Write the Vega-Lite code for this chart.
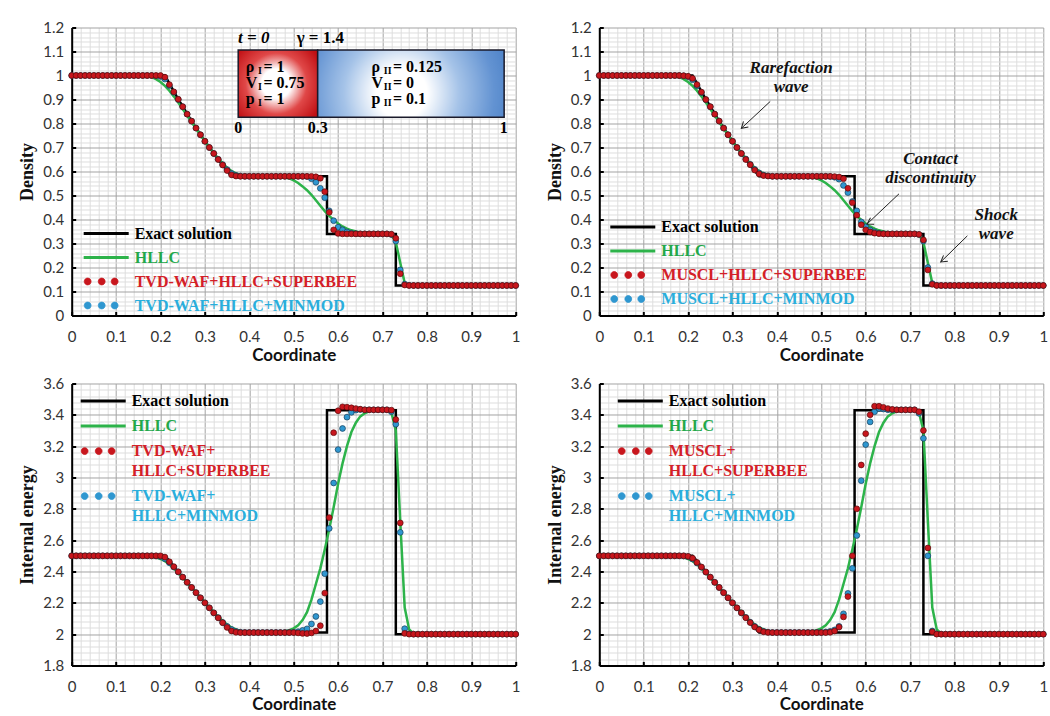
{
"$schema": "https://vega.github.io/schema/vega-lite/v6.json",
"background": "white",
"padding": {"left": 18.7, "top": 20.5, "right": 4, "bottom": 0},
"columns": 2,
"spacing": {"row": 13, "column": 25.6},
"resolve": {"scale": {"color": "independent"}, "legend": {"color": "independent"}},
"config": {
  "view": {"stroke": null},
  "font": "Lato",
  "axis": {"grid": true, "ticks": true, "tickSize": -4, "tickWidth": 2, "tickColor": "#000000", "tickCount": 200, "gridWidth": 1, "labelFont": "Lato", "labelFontSize": 15, "labelColor": "#333333", "labelFlush": false, "labelOverlap": false, "domainColor": "#000000", "domainWidth": 2},
  "axisX": {"labelPadding": 18, "titlePadding": 3, "titleFont": "Lato", "titleFontSize": 17, "titleFontWeight": "bold", "titleColor": "#111111"},
  "axisY": {"labelPadding": 12, "titlePadding": 6, "titleFont": "Liberation Serif", "titleFontSize": 18, "titleFontWeight": "bold", "titleColor": "#111111"}
},
"datasets": {
"ex": [
{"k":0,"x":0,"rho":1,"e":2.5},{"k":1,"x":0.21,"rho":1,"e":2.5},{"k":2,"x":0.24,"rho":0.901,"e":2.398},{"k":3,"x":0.27,"rho":0.81,"e":2.298},{"k":4,"x":0.3,"rho":0.7265,"e":2.2},{"k":5,"x":0.33,"rho":0.65,"e":2.104},{"k":6,"x":0.36,"rho":0.58,"e":2.01},{"k":7,"x":0.575,"rho":0.58,"e":2.01},{"k":8,"x":0.575,"rho":0.34,"e":3.43},{"k":9,"x":0.73,"rho":0.34,"e":3.43},{"k":10,"x":0.73,"rho":0.125,"e":2.0},{"k":11,"x":1,"rho":0.125,"e":2.0}
],
"n": [
{"x":0,"g":1,"tr":1,"tb":1,"mr":1,"mb":1,"G":2.5,"TR":2.5,"TB":2.5,"MR":2.5,"MB":2.5},
{"x":0.01,"g":1,"tr":1,"tb":1,"mr":1,"mb":1,"G":2.5,"TR":2.5,"TB":2.5,"MR":2.5,"MB":2.5},
{"x":0.02,"g":1,"tr":1,"tb":1,"mr":1,"mb":1,"G":2.5,"TR":2.5,"TB":2.5,"MR":2.5,"MB":2.5},
{"x":0.03,"g":1,"tr":1,"tb":1,"mr":1,"mb":1,"G":2.5,"TR":2.5,"TB":2.5,"MR":2.5,"MB":2.5},
{"x":0.04,"g":1,"tr":1,"tb":1,"mr":1,"mb":1,"G":2.5,"TR":2.5,"TB":2.5,"MR":2.5,"MB":2.5},
{"x":0.05,"g":1,"tr":1,"tb":1,"mr":1,"mb":1,"G":2.5,"TR":2.5,"TB":2.5,"MR":2.5,"MB":2.5},
{"x":0.06,"g":1,"tr":1,"tb":1,"mr":1,"mb":1,"G":2.5,"TR":2.5,"TB":2.5,"MR":2.5,"MB":2.5},
{"x":0.07,"g":1,"tr":1,"tb":1,"mr":1,"mb":1,"G":2.5,"TR":2.5,"TB":2.5,"MR":2.5,"MB":2.5},
{"x":0.08,"g":1,"tr":1,"tb":1,"mr":1,"mb":1,"G":2.5,"TR":2.5,"TB":2.5,"MR":2.5,"MB":2.5},
{"x":0.09,"g":1,"tr":1,"tb":1,"mr":1,"mb":1,"G":2.5,"TR":2.5,"TB":2.5,"MR":2.5,"MB":2.5},
{"x":0.1,"g":1,"tr":1,"tb":1,"mr":1,"mb":1,"G":2.5,"TR":2.5,"TB":2.5,"MR":2.5,"MB":2.5},
{"x":0.11,"g":1,"tr":1,"tb":1,"mr":1,"mb":1,"G":2.5,"TR":2.5,"TB":2.5,"MR":2.5,"MB":2.5},
{"x":0.12,"g":1,"tr":1,"tb":1,"mr":1,"mb":1,"G":2.5,"TR":2.5,"TB":2.5,"MR":2.5,"MB":2.5},
{"x":0.13,"g":1,"tr":1,"tb":1,"mr":1,"mb":1,"G":2.5,"TR":2.5,"TB":2.5,"MR":2.5,"MB":2.5},
{"x":0.14,"g":1,"tr":1,"tb":1,"mr":1,"mb":1,"G":2.5,"TR":2.5,"TB":2.5,"MR":2.5,"MB":2.5},
{"x":0.15,"g":1,"tr":1,"tb":1,"mr":1,"mb":1,"G":2.5,"TR":2.5,"TB":2.5,"MR":2.5,"MB":2.5},
{"x":0.16,"g":0.999,"tr":1,"tb":1,"mr":1,"mb":1,"G":2.5,"TR":2.5,"TB":2.5,"MR":2.5,"MB":2.5},
{"x":0.17,"g":0.997,"tr":1,"tb":1,"mr":1,"mb":1,"G":2.499,"TR":2.5,"TB":2.5,"MR":2.5,"MB":2.5},
{"x":0.18,"g":0.993,"tr":1,"tb":1,"mr":1,"mb":1,"G":2.496,"TR":2.5,"TB":2.5,"MR":2.5,"MB":2.5},
{"x":0.19,"g":0.985,"tr":1,"tb":0.999,"mr":0.999,"mb":0.999,"G":2.49,"TR":2.5,"TB":2.499,"MR":2.5,"MB":2.499},
{"x":0.2,"g":0.973,"tr":1,"tb":0.996,"mr":0.997,"mb":0.995,"G":2.48,"TR":2.5,"TB":2.496,"MR":2.497,"MB":2.495},
{"x":0.21,"g":0.957,"tr":0.993,"tb":0.985,"mr":0.988,"mb":0.982,"G":2.466,"TR":2.492,"TB":2.482,"MR":2.485,"MB":2.48},
{"x":0.22,"g":0.937,"tr":0.962,"tb":0.958,"mr":0.962,"mb":0.957,"G":2.446,"TR":2.462,"TB":2.456,"MR":2.458,"MB":2.454},
{"x":0.23,"g":0.913,"tr":0.932,"tb":0.93,"mr":0.931,"mb":0.929,"G":2.42,"TR":2.431,"TB":2.428,"MR":2.429,"MB":2.427},
{"x":0.24,"g":0.887,"tr":0.901,"tb":0.9,"mr":0.9,"mb":0.899,"G":2.391,"TR":2.398,"TB":2.397,"MR":2.397,"MB":2.396},
{"x":0.25,"g":0.86,"tr":0.87,"tb":0.87,"mr":0.87,"mb":0.87,"G":2.36,"TR":2.364,"TB":2.364,"MR":2.364,"MB":2.364},
{"x":0.26,"g":0.833,"tr":0.839,"tb":0.839,"mr":0.839,"mb":0.839,"G":2.329,"TR":2.331,"TB":2.331,"MR":2.331,"MB":2.331},
{"x":0.27,"g":0.806,"tr":0.81,"tb":0.81,"mr":0.81,"mb":0.81,"G":2.297,"TR":2.298,"TB":2.298,"MR":2.298,"MB":2.298},
{"x":0.28,"g":0.779,"tr":0.781,"tb":0.781,"mr":0.781,"mb":0.781,"G":2.265,"TR":2.265,"TB":2.265,"MR":2.265,"MB":2.265},
{"x":0.29,"g":0.752,"tr":0.753,"tb":0.753,"mr":0.753,"mb":0.753,"G":2.233,"TR":2.232,"TB":2.232,"MR":2.232,"MB":2.232},
{"x":0.3,"g":0.726,"tr":0.726,"tb":0.726,"mr":0.726,"mb":0.726,"G":2.201,"TR":2.2,"TB":2.2,"MR":2.2,"MB":2.2},
{"x":0.31,"g":0.701,"tr":0.7,"tb":0.7,"mr":0.7,"mb":0.7,"G":2.17,"TR":2.168,"TB":2.168,"MR":2.168,"MB":2.168},
{"x":0.32,"g":0.677,"tr":0.675,"tb":0.675,"mr":0.675,"mb":0.675,"G":2.14,"TR":2.136,"TB":2.136,"MR":2.136,"MB":2.136},
{"x":0.33,"g":0.655,"tr":0.65,"tb":0.651,"mr":0.65,"mb":0.652,"G":2.111,"TR":2.104,"TB":2.106,"MR":2.105,"MB":2.107},
{"x":0.34,"g":0.634,"tr":0.627,"tb":0.629,"mr":0.628,"mb":0.63,"G":2.085,"TR":2.073,"TB":2.075,"MR":2.074,"MB":2.076},
{"x":0.35,"g":0.616,"tr":0.604,"tb":0.608,"mr":0.606,"mb":0.609,"G":2.062,"TR":2.043,"TB":2.05,"MR":2.046,"MB":2.05},
{"x":0.36,"g":0.602,"tr":0.586,"tb":0.592,"mr":0.59,"mb":0.594,"G":2.043,"TR":2.02,"TB":2.03,"MR":2.028,"MB":2.031},
{"x":0.37,"g":0.592,"tr":0.581,"tb":0.584,"mr":0.583,"mb":0.585,"G":2.03,"TR":2.012,"TB":2.018,"MR":2.015,"MB":2.018},
{"x":0.38,"g":0.586,"tr":0.58,"tb":0.581,"mr":0.581,"mb":0.582,"G":2.021,"TR":2.01,"TB":2.013,"MR":2.011,"MB":2.013},
{"x":0.39,"g":0.583,"tr":0.58,"tb":0.58,"mr":0.58,"mb":0.58,"G":2.016,"TR":2.01,"TB":2.011,"MR":2.01,"MB":2.011},
{"x":0.4,"g":0.581,"tr":0.58,"tb":0.58,"mr":0.58,"mb":0.58,"G":2.013,"TR":2.01,"TB":2.011,"MR":2.01,"MB":2.011},
{"x":0.41,"g":0.58,"tr":0.58,"tb":0.58,"mr":0.58,"mb":0.58,"G":2.011,"TR":2.01,"TB":2.011,"MR":2.01,"MB":2.011},
{"x":0.42,"g":0.58,"tr":0.58,"tb":0.58,"mr":0.58,"mb":0.58,"G":2.011,"TR":2.01,"TB":2.011,"MR":2.01,"MB":2.011},
{"x":0.43,"g":0.58,"tr":0.58,"tb":0.58,"mr":0.58,"mb":0.58,"G":2.011,"TR":2.01,"TB":2.011,"MR":2.01,"MB":2.011},
{"x":0.44,"g":0.58,"tr":0.58,"tb":0.58,"mr":0.58,"mb":0.58,"G":2.011,"TR":2.01,"TB":2.011,"MR":2.01,"MB":2.011},
{"x":0.45,"g":0.58,"tr":0.58,"tb":0.58,"mr":0.58,"mb":0.58,"G":2.011,"TR":2.01,"TB":2.011,"MR":2.01,"MB":2.011},
{"x":0.46,"g":0.58,"tr":0.58,"tb":0.58,"mr":0.58,"mb":0.58,"G":2.011,"TR":2.01,"TB":2.011,"MR":2.01,"MB":2.011},
{"x":0.47,"g":0.579,"tr":0.58,"tb":0.58,"mr":0.58,"mb":0.58,"G":2.013,"TR":2.01,"TB":2.011,"MR":2.01,"MB":2.011},
{"x":0.48,"g":0.576,"tr":0.58,"tb":0.58,"mr":0.58,"mb":0.58,"G":2.017,"TR":2.01,"TB":2.011,"MR":2.01,"MB":2.011},
{"x":0.49,"g":0.571,"tr":0.58,"tb":0.58,"mr":0.58,"mb":0.58,"G":2.025,"TR":2.01,"TB":2.011,"MR":2.01,"MB":2.011},
{"x":0.5,"g":0.563,"tr":0.58,"tb":0.58,"mr":0.58,"mb":0.58,"G":2.037,"TR":2.01,"TB":2.012,"MR":2.01,"MB":2.011},
{"x":0.51,"g":0.552,"tr":0.58,"tb":0.58,"mr":0.58,"mb":0.58,"G":2.056,"TR":2.008,"TB":2.016,"MR":2.01,"MB":2.014},
{"x":0.52,"g":0.538,"tr":0.58,"tb":0.58,"mr":0.58,"mb":0.579,"G":2.09,"TR":2.005,"TB":2.024,"MR":2.012,"MB":2.018},
{"x":0.53,"g":0.522,"tr":0.58,"tb":0.579,"mr":0.579,"mb":0.576,"G":2.14,"TR":2.004,"TB":2.034,"MR":2.02,"MB":2.027},
{"x":0.54,"g":0.503,"tr":0.58,"tb":0.57,"mr":0.577,"mb":0.568,"G":2.22,"TR":2.008,"TB":2.065,"MR":2.045,"MB":2.05},
{"x":0.55,"g":0.48,"tr":0.578,"tb":0.555,"mr":0.57,"mb":0.542,"G":2.32,"TR":2.02,"TB":2.113,"MR":2.11,"MB":2.13},
{"x":0.56,"g":0.457,"tr":0.572,"tb":0.53,"mr":0.53,"mb":0.512,"G":2.42,"TR":2.054,"TB":2.208,"MR":2.24,"MB":2.26},
{"x":0.57,"g":0.435,"tr":0.516,"tb":0.491,"mr":0.47,"mb":0.475,"G":2.54,"TR":2.262,"TB":2.386,"MR":2.5,"MB":2.42},
{"x":0.58,"g":0.415,"tr":0.43,"tb":0.436,"mr":0.418,"mb":0.436,"G":2.67,"TR":2.744,"TB":2.675,"MR":2.8,"MB":2.63},
{"x":0.59,"g":0.398,"tr":0.357,"tb":0.395,"mr":0.378,"mb":0.39,"G":2.81,"TR":3.286,"TB":2.965,"MR":3.08,"MB":2.98},
{"x":0.6,"g":0.383,"tr":0.342,"tb":0.368,"mr":0.357,"mb":0.37,"G":2.96,"TR":3.426,"TB":3.178,"MR":3.28,"MB":3.21},
{"x":0.61,"g":0.371,"tr":0.34,"tb":0.357,"mr":0.348,"mb":0.356,"G":3.09,"TR":3.451,"TB":3.313,"MR":3.4,"MB":3.355},
{"x":0.62,"g":0.362,"tr":0.34,"tb":0.348,"mr":0.343,"mb":0.348,"G":3.2,"TR":3.449,"TB":3.385,"MR":3.455,"MB":3.42},
{"x":0.63,"g":0.355,"tr":0.34,"tb":0.343,"mr":0.341,"mb":0.343,"G":3.29,"TR":3.445,"TB":3.416,"MR":3.455,"MB":3.44},
{"x":0.64,"g":0.35,"tr":0.34,"tb":0.341,"mr":0.34,"mb":0.341,"G":3.35,"TR":3.44,"TB":3.43,"MR":3.448,"MB":3.437},
{"x":0.65,"g":0.346,"tr":0.34,"tb":0.34,"mr":0.34,"mb":0.34,"G":3.39,"TR":3.436,"TB":3.434,"MR":3.44,"MB":3.432},
{"x":0.66,"g":0.343,"tr":0.34,"tb":0.34,"mr":0.34,"mb":0.34,"G":3.41,"TR":3.432,"TB":3.432,"MR":3.435,"MB":3.432},
{"x":0.67,"g":0.341,"tr":0.34,"tb":0.34,"mr":0.34,"mb":0.34,"G":3.422,"TR":3.432,"TB":3.432,"MR":3.432,"MB":3.432},
{"x":0.68,"g":0.34,"tr":0.34,"tb":0.34,"mr":0.34,"mb":0.34,"G":3.43,"TR":3.432,"TB":3.432,"MR":3.432,"MB":3.432},
{"x":0.69,"g":0.34,"tr":0.34,"tb":0.34,"mr":0.34,"mb":0.34,"G":3.43,"TR":3.432,"TB":3.432,"MR":3.432,"MB":3.432},
{"x":0.7,"g":0.34,"tr":0.34,"tb":0.34,"mr":0.34,"mb":0.34,"G":3.43,"TR":3.432,"TB":3.432,"MR":3.432,"MB":3.432},
{"x":0.71,"g":0.34,"tr":0.34,"tb":0.34,"mr":0.34,"mb":0.34,"G":3.428,"TR":3.432,"TB":3.432,"MR":3.432,"MB":3.432},
{"x":0.72,"g":0.337,"tr":0.339,"tb":0.337,"mr":0.338,"mb":0.337,"G":3.415,"TR":3.43,"TB":3.42,"MR":3.42,"MB":3.41},
{"x":0.73,"g":0.305,"tr":0.322,"tb":0.31,"mr":0.315,"mb":0.31,"G":3.3,"TR":3.37,"TB":3.34,"MR":3.3,"MB":3.25},
{"x":0.74,"g":0.22,"tr":0.174,"tb":0.19,"mr":0.19,"mb":0.2,"G":2.72,"TR":2.71,"TB":2.65,"MR":2.55,"MB":2.5},
{"x":0.75,"g":0.135,"tr":0.127,"tb":0.131,"mr":0.13,"mb":0.133,"G":2.17,"TR":2.005,"TB":2.035,"MR":2.015,"MB":2.02},
{"x":0.76,"g":0.126,"tr":0.125,"tb":0.126,"mr":0.125,"mb":0.126,"G":2.03,"TR":2,"TB":2.003,"MR":2,"MB":2.002},
{"x":0.77,"g":0.125,"tr":0.125,"tb":0.125,"mr":0.125,"mb":0.125,"G":2.005,"TR":2,"TB":2,"MR":2,"MB":2},
{"x":0.78,"g":0.125,"tr":0.125,"tb":0.125,"mr":0.125,"mb":0.125,"G":2,"TR":2,"TB":2,"MR":2,"MB":2},
{"x":0.79,"g":0.125,"tr":0.125,"tb":0.125,"mr":0.125,"mb":0.125,"G":2,"TR":2,"TB":2,"MR":2,"MB":2},
{"x":0.8,"g":0.125,"tr":0.125,"tb":0.125,"mr":0.125,"mb":0.125,"G":2,"TR":2,"TB":2,"MR":2,"MB":2},
{"x":0.81,"g":0.125,"tr":0.125,"tb":0.125,"mr":0.125,"mb":0.125,"G":2,"TR":2,"TB":2,"MR":2,"MB":2},
{"x":0.82,"g":0.125,"tr":0.125,"tb":0.125,"mr":0.125,"mb":0.125,"G":2,"TR":2,"TB":2,"MR":2,"MB":2},
{"x":0.83,"g":0.125,"tr":0.125,"tb":0.125,"mr":0.125,"mb":0.125,"G":2,"TR":2,"TB":2,"MR":2,"MB":2},
{"x":0.84,"g":0.125,"tr":0.125,"tb":0.125,"mr":0.125,"mb":0.125,"G":2,"TR":2,"TB":2,"MR":2,"MB":2},
{"x":0.85,"g":0.125,"tr":0.125,"tb":0.125,"mr":0.125,"mb":0.125,"G":2,"TR":2,"TB":2,"MR":2,"MB":2},
{"x":0.86,"g":0.125,"tr":0.125,"tb":0.125,"mr":0.125,"mb":0.125,"G":2,"TR":2,"TB":2,"MR":2,"MB":2},
{"x":0.87,"g":0.125,"tr":0.125,"tb":0.125,"mr":0.125,"mb":0.125,"G":2,"TR":2,"TB":2,"MR":2,"MB":2},
{"x":0.88,"g":0.125,"tr":0.125,"tb":0.125,"mr":0.125,"mb":0.125,"G":2,"TR":2,"TB":2,"MR":2,"MB":2},
{"x":0.89,"g":0.125,"tr":0.125,"tb":0.125,"mr":0.125,"mb":0.125,"G":2,"TR":2,"TB":2,"MR":2,"MB":2},
{"x":0.9,"g":0.125,"tr":0.125,"tb":0.125,"mr":0.125,"mb":0.125,"G":2,"TR":2,"TB":2,"MR":2,"MB":2},
{"x":0.91,"g":0.125,"tr":0.125,"tb":0.125,"mr":0.125,"mb":0.125,"G":2,"TR":2,"TB":2,"MR":2,"MB":2},
{"x":0.92,"g":0.125,"tr":0.125,"tb":0.125,"mr":0.125,"mb":0.125,"G":2,"TR":2,"TB":2,"MR":2,"MB":2},
{"x":0.93,"g":0.125,"tr":0.125,"tb":0.125,"mr":0.125,"mb":0.125,"G":2,"TR":2,"TB":2,"MR":2,"MB":2},
{"x":0.94,"g":0.125,"tr":0.125,"tb":0.125,"mr":0.125,"mb":0.125,"G":2,"TR":2,"TB":2,"MR":2,"MB":2},
{"x":0.95,"g":0.125,"tr":0.125,"tb":0.125,"mr":0.125,"mb":0.125,"G":2,"TR":2,"TB":2,"MR":2,"MB":2},
{"x":0.96,"g":0.125,"tr":0.125,"tb":0.125,"mr":0.125,"mb":0.125,"G":2,"TR":2,"TB":2,"MR":2,"MB":2},
{"x":0.97,"g":0.125,"tr":0.125,"tb":0.125,"mr":0.125,"mb":0.125,"G":2,"TR":2,"TB":2,"MR":2,"MB":2},
{"x":0.98,"g":0.125,"tr":0.125,"tb":0.125,"mr":0.125,"mb":0.125,"G":2,"TR":2,"TB":2,"MR":2,"MB":2},
{"x":0.99,"g":0.125,"tr":0.125,"tb":0.125,"mr":0.125,"mb":0.125,"G":2,"TR":2,"TB":2,"MR":2,"MB":2},
{"x":1,"g":0.125,"tr":0.125,"tb":0.125,"mr":0.125,"mb":0.125,"G":2,"TR":2,"TB":2,"MR":2,"MB":2}
]
},
"concat": [
{
 "width": 444, "height": 288,
 "layer": [
  {"data": {"name": "ex"}, "mark": {"type": "line", "strokeWidth": 2.5},
   "encoding": {
    "x": {"field": "x", "type": "quantitative", "scale": {"domain": [0, 1], "nice": false},
      "axis": {"title": "Coordinate", "tickCount": 200, "values": [0,0.02,0.04,0.06,0.08,0.1,0.12,0.14,0.16,0.18,0.2,0.22,0.24,0.26,0.28,0.3,0.32,0.34,0.36,0.38,0.4,0.42,0.44,0.46,0.48,0.5,0.52,0.54,0.56,0.58,0.6,0.62,0.64,0.66,0.68,0.7,0.72,0.74,0.76,0.78,0.8,0.82,0.84,0.86,0.88,0.9,0.92,0.94,0.96,0.98,1],
       "gridColor": {"condition": {"test": "round(datum.value*50)%5===0", "value": "#a3a3a3"}, "value": "#dedede"},
       "tickOpacity": {"condition": {"test": "round(datum.value*50)%5===0", "value": 1}, "value": 0},
       "labelExpr": "round(datum.value*50)%5===0 ? format(datum.value,'~g') : ''"}},
    "y": {"field": "rho", "type": "quantitative", "scale": {"domain": [0, 1.2], "nice": false},
      "axis": {"title": "Density", "tickCount": 200, "values": [0,0.02,0.04,0.06,0.08,0.1,0.12,0.14,0.16,0.18,0.2,0.22,0.24,0.26,0.28,0.3,0.32,0.34,0.36,0.38,0.4,0.42,0.44,0.46,0.48,0.5,0.52,0.54,0.56,0.58,0.6,0.62,0.64,0.66,0.68,0.7,0.72,0.74,0.76,0.78,0.8,0.82,0.84,0.86,0.88,0.9,0.92,0.94,0.96,0.98,1,1.02,1.04,1.06,1.08,1.1,1.12,1.14,1.16,1.18,1.2],
       "gridColor": {"condition": {"test": "round(datum.value*50)%5===0", "value": "#a3a3a3"}, "value": "#dedede"},
       "tickOpacity": {"condition": {"test": "round(datum.value*50)%5===0", "value": 1}, "value": 0},
       "labelExpr": "round(datum.value*50)%5===0 ? format(datum.value,'~g') : ''"}},
    "order": {"field": "k"},
    "color": {"datum": "Exact solution", "type": "nominal",
      "scale": {"domain": ["Exact solution", "HLLC", "TVD-WAF+HLLC+SUPERBEE", "TVD-WAF+HLLC+MINMOD"], "range": ["#000000", "#2db34a", "#c8161d", "#2f97d0"]},
      "legend": {"orient": "none", "legendX": 40, "legendY": 198, "title": null, "padding": 0, "symbolSize": 324, "labelFont": "Liberation Serif", "labelFontSize": 16, "labelFontWeight": "bold", "labelOffset": 7, "rowPadding": 8, "labelLimit": 400,
        "encode": {
          "symbols": {"update": {
            "shape": {"signal": "datum.value === 'Exact solution' || datum.value === 'HLLC' ? 'M-4,0L1,0' : 'M-3.94,0a0.38,0.38 0 1,0 0.76,0a0.38,0.38 0 1,0 -0.76,0M-2.38,0a0.38,0.38 0 1,0 0.76,0a0.38,0.38 0 1,0 -0.76,0M-0.94,0a0.38,0.38 0 1,0 0.76,0a0.38,0.38 0 1,0 -0.76,0'"},
            "fill": {"signal": "datum.value === 'Exact solution' || datum.value === 'HLLC' ? 'transparent' : indexof(datum.value, 'SUPERBEE') >= 0 ? '#c8161d' : '#2f97d0'"},
            "stroke": {"signal": "datum.value === 'Exact solution' ? '#000000' : datum.value === 'HLLC' ? '#2db34a' : indexof(datum.value, 'SUPERBEE') >= 0 ? '#5a0b0b' : '#173f5c'"},
            "strokeWidth": {"signal": "datum.value === 'Exact solution' || datum.value === 'HLLC' ? 3 : 0.8"},
            "size": {"value": 324}, "opacity": {"value": 1}}},
          "labels": {"update": {"fill": {"signal": "datum.value === 'Exact solution' ? '#000000' : datum.value === 'HLLC' ? '#22a84a' : indexof(datum.value, 'SUPERBEE') >= 0 ? '#d42027' : '#2aaedc'"}}}
        }}}
   }},
  {"data": {"name": "n"}, "mark": {"type": "line", "strokeWidth": 2.5},
   "encoding": {"x": {"field": "x", "type": "quantitative"}, "y": {"field": "g", "type": "quantitative"}, "color": {"datum": "HLLC", "type": "nominal"}}},
  {"data": {"name": "n"}, "mark": {"type": "point", "filled": true, "size": 34, "stroke": "#173f5c", "strokeWidth": 0.7, "opacity": 1},
   "encoding": {"x": {"field": "x", "type": "quantitative"}, "y": {"field": "tb", "type": "quantitative"}, "color": {"datum": "TVD-WAF+HLLC+MINMOD", "type": "nominal"}}},
  {"data": {"name": "n"}, "mark": {"type": "point", "filled": true, "size": 34, "stroke": "#5a0b0b", "strokeWidth": 0.7, "opacity": 1},
   "encoding": {"x": {"field": "x", "type": "quantitative"}, "y": {"field": "tr", "type": "quantitative"}, "color": {"datum": "TVD-WAF+HLLC+SUPERBEE", "type": "nominal"}}},
  {"data": {"values": [{}]}, "mark": {"type": "rect", "stroke": "#1a1a2a", "strokeWidth": 1.5,
     "fill": {"gradient": "radial", "x1": 0.48, "y1": 0.5, "x2": 0.48, "y2": 0.5, "r1": 0, "r2": 0.62, "stops": [{"offset": 0, "color": "#ffffff"}, {"offset": 0.3, "color": "#ffffff"}, {"offset": 0.62, "color": "#e04848"}, {"offset": 1, "color": "#c01014"}]}},
   "encoding": {"x": {"datum": 0.375}, "x2": {"datum": 0.554}, "y": {"datum": 1.106}, "y2": {"datum": 0.826}}},
  {"data": {"values": [{}]}, "mark": {"type": "rect", "stroke": "#1a1a2a", "strokeWidth": 1.5,
     "fill": {"gradient": "radial", "x1": 0.45, "y1": 0.55, "x2": 0.45, "y2": 0.55, "r1": 0, "r2": 0.62, "stops": [{"offset": 0, "color": "#ffffff"}, {"offset": 0.22, "color": "#ffffff"}, {"offset": 0.5, "color": "#a5c3e8"}, {"offset": 0.8, "color": "#6393d2"}, {"offset": 1, "color": "#4a80c6"}]}},
   "encoding": {"x": {"datum": 0.554}, "x2": {"datum": 0.974}, "y": {"datum": 1.106}, "y2": {"datum": 0.826}}},
  {"data": {"values": [{}]}, "mark": {"type": "text", "text": "t = 0", "font": "Liberation Serif", "fontSize": 17, "fontWeight": "bold", "fontStyle": "italic", "align": "center", "baseline": "middle", "color": "#000000"},
   "encoding": {"x": {"datum": 0.41}, "y": {"datum": 1.156}}},
  {"data": {"values": [{}]}, "mark": {"type": "text", "text": "γ = 1.4", "font": "Liberation Serif", "fontSize": 17, "fontWeight": "bold", "align": "center", "baseline": "middle", "color": "#000000"},
   "encoding": {"x": {"datum": 0.56}, "y": {"datum": 1.156}}},
  {"data": {"values": [{}]}, "mark": {"type": "text", "text": ["ρ", "V", "p"], "lineHeight": 16, "font": "Liberation Serif", "fontSize": 16, "fontWeight": "bold", "align": "left", "baseline": "middle", "color": "#000000"},
   "encoding": {"x": {"datum": 0.392}, "y": {"datum": 1.036}}},
  {"data": {"values": [{}]}, "mark": {"type": "text", "text": ["I", "I", "I"], "lineHeight": 16, "dy": 4, "font": "Liberation Serif", "fontSize": 10, "fontWeight": "bold", "align": "left", "baseline": "middle", "color": "#000000"},
   "encoding": {"x": {"datum": 0.4195}, "y": {"datum": 1.036}}},
  {"data": {"values": [{}]}, "mark": {"type": "text", "text": ["= 1", "= 0.75", "= 1"], "lineHeight": 16, "font": "Liberation Serif", "fontSize": 16, "fontWeight": "bold", "align": "left", "baseline": "middle", "color": "#000000"},
   "encoding": {"x": {"datum": 0.432}, "y": {"datum": 1.036}}},
  {"data": {"values": [{}]}, "mark": {"type": "text", "text": ["ρ", "V", "p"], "lineHeight": 16, "font": "Liberation Serif", "fontSize": 16, "fontWeight": "bold", "align": "left", "baseline": "middle", "color": "#000000"},
   "encoding": {"x": {"datum": 0.675}, "y": {"datum": 1.036}}},
  {"data": {"values": [{}]}, "mark": {"type": "text", "text": ["II", "II", "II"], "lineHeight": 16, "dy": 4, "font": "Liberation Serif", "fontSize": 10, "fontWeight": "bold", "align": "left", "baseline": "middle", "color": "#000000"},
   "encoding": {"x": {"datum": 0.703}, "y": {"datum": 1.036}}},
  {"data": {"values": [{}]}, "mark": {"type": "text", "text": ["= 0.125", "= 0", "= 0.1"], "lineHeight": 16, "font": "Liberation Serif", "fontSize": 16, "fontWeight": "bold", "align": "left", "baseline": "middle", "color": "#000000"},
   "encoding": {"x": {"datum": 0.7235}, "y": {"datum": 1.036}}},
  {"data": {"values": [{}]}, "mark": {"type": "text", "text": "0", "font": "Liberation Serif", "fontSize": 16, "fontWeight": "bold", "align": "center", "baseline": "middle", "color": "#000000"},
   "encoding": {"x": {"datum": 0.375}, "y": {"datum": 0.781}}},
  {"data": {"values": [{}]}, "mark": {"type": "text", "text": "0.3", "font": "Liberation Serif", "fontSize": 16, "fontWeight": "bold", "align": "center", "baseline": "middle", "color": "#000000"},
   "encoding": {"x": {"datum": 0.554}, "y": {"datum": 0.781}}},
  {"data": {"values": [{}]}, "mark": {"type": "text", "text": "1", "font": "Liberation Serif", "fontSize": 16, "fontWeight": "bold", "align": "center", "baseline": "middle", "color": "#000000"},
   "encoding": {"x": {"datum": 0.973}, "y": {"datum": 0.781}}}
 ]
},
{
 "width": 444, "height": 288,
 "layer": [
  {"data": {"name": "ex"}, "mark": {"type": "line", "strokeWidth": 2.5},
   "encoding": {
    "x": {"field": "x", "type": "quantitative", "scale": {"domain": [0, 1], "nice": false},
      "axis": {"title": "Coordinate", "tickCount": 200, "values": [0,0.02,0.04,0.06,0.08,0.1,0.12,0.14,0.16,0.18,0.2,0.22,0.24,0.26,0.28,0.3,0.32,0.34,0.36,0.38,0.4,0.42,0.44,0.46,0.48,0.5,0.52,0.54,0.56,0.58,0.6,0.62,0.64,0.66,0.68,0.7,0.72,0.74,0.76,0.78,0.8,0.82,0.84,0.86,0.88,0.9,0.92,0.94,0.96,0.98,1],
       "gridColor": {"condition": {"test": "round(datum.value*50)%5===0", "value": "#a3a3a3"}, "value": "#dedede"},
       "tickOpacity": {"condition": {"test": "round(datum.value*50)%5===0", "value": 1}, "value": 0},
       "labelExpr": "round(datum.value*50)%5===0 ? format(datum.value,'~g') : ''"}},
    "y": {"field": "rho", "type": "quantitative", "scale": {"domain": [0, 1.2], "nice": false},
      "axis": {"title": "Density", "tickCount": 200, "values": [0,0.02,0.04,0.06,0.08,0.1,0.12,0.14,0.16,0.18,0.2,0.22,0.24,0.26,0.28,0.3,0.32,0.34,0.36,0.38,0.4,0.42,0.44,0.46,0.48,0.5,0.52,0.54,0.56,0.58,0.6,0.62,0.64,0.66,0.68,0.7,0.72,0.74,0.76,0.78,0.8,0.82,0.84,0.86,0.88,0.9,0.92,0.94,0.96,0.98,1,1.02,1.04,1.06,1.08,1.1,1.12,1.14,1.16,1.18,1.2],
       "gridColor": {"condition": {"test": "round(datum.value*50)%5===0", "value": "#a3a3a3"}, "value": "#dedede"},
       "tickOpacity": {"condition": {"test": "round(datum.value*50)%5===0", "value": 1}, "value": 0},
       "labelExpr": "round(datum.value*50)%5===0 ? format(datum.value,'~g') : ''"}},
    "order": {"field": "k"},
    "color": {"datum": "Exact solution", "type": "nominal",
      "scale": {"domain": ["Exact solution", "HLLC", "MUSCL+HLLC+SUPERBEE", "MUSCL+HLLC+MINMOD"], "range": ["#000000", "#2db34a", "#c8161d", "#2f97d0"]},
      "legend": {"orient": "none", "legendX": 39, "legendY": 191.5, "title": null, "padding": 0, "symbolSize": 324, "labelFont": "Liberation Serif", "labelFontSize": 16, "labelFontWeight": "bold", "labelOffset": 7, "rowPadding": 8, "labelLimit": 400,
        "encode": {
          "symbols": {"update": {
            "shape": {"signal": "datum.value === 'Exact solution' || datum.value === 'HLLC' ? 'M-4,0L1,0' : 'M-3.94,0a0.38,0.38 0 1,0 0.76,0a0.38,0.38 0 1,0 -0.76,0M-2.38,0a0.38,0.38 0 1,0 0.76,0a0.38,0.38 0 1,0 -0.76,0M-0.94,0a0.38,0.38 0 1,0 0.76,0a0.38,0.38 0 1,0 -0.76,0'"},
            "fill": {"signal": "datum.value === 'Exact solution' || datum.value === 'HLLC' ? 'transparent' : indexof(datum.value, 'SUPERBEE') >= 0 ? '#c8161d' : '#2f97d0'"},
            "stroke": {"signal": "datum.value === 'Exact solution' ? '#000000' : datum.value === 'HLLC' ? '#2db34a' : indexof(datum.value, 'SUPERBEE') >= 0 ? '#5a0b0b' : '#173f5c'"},
            "strokeWidth": {"signal": "datum.value === 'Exact solution' || datum.value === 'HLLC' ? 3 : 0.8"},
            "size": {"value": 324}, "opacity": {"value": 1}}},
          "labels": {"update": {"fill": {"signal": "datum.value === 'Exact solution' ? '#000000' : datum.value === 'HLLC' ? '#22a84a' : indexof(datum.value, 'SUPERBEE') >= 0 ? '#d42027' : '#2aaedc'"}}}
        }}}
   }},
  {"data": {"name": "n"}, "mark": {"type": "line", "strokeWidth": 2.5},
   "encoding": {"x": {"field": "x", "type": "quantitative"}, "y": {"field": "g", "type": "quantitative"}, "color": {"datum": "HLLC", "type": "nominal"}}},
  {"data": {"name": "n"}, "mark": {"type": "point", "filled": true, "size": 34, "stroke": "#173f5c", "strokeWidth": 0.7, "opacity": 1},
   "encoding": {"x": {"field": "x", "type": "quantitative"}, "y": {"field": "mb", "type": "quantitative"}, "color": {"datum": "MUSCL+HLLC+MINMOD", "type": "nominal"}}},
  {"data": {"name": "n"}, "mark": {"type": "point", "filled": true, "size": 34, "stroke": "#5a0b0b", "strokeWidth": 0.7, "opacity": 1},
   "encoding": {"x": {"field": "x", "type": "quantitative"}, "y": {"field": "mr", "type": "quantitative"}, "color": {"datum": "MUSCL+HLLC+SUPERBEE", "type": "nominal"}}},
  {"data": {"values": [{}]}, "mark": {"type": "text", "text": ["Rarefaction", "wave"], "lineHeight": 19, "font": "Liberation Serif", "fontSize": 17, "fontWeight": "bold", "fontStyle": "italic", "align": "center", "baseline": "middle", "color": "#111111"},
   "encoding": {"x": {"datum": 0.432}, "y": {"datum": 1.032}}},
  {"data": {"values": [{}]}, "mark": {"type": "rule", "color": "#222222", "strokeWidth": 1},
   "encoding": {"x": {"datum": 0.385}, "y": {"datum": 0.892}, "x2": {"datum": 0.32}, "y2": {"datum": 0.78}}},
  {"data": {"values": [{}]}, "mark": {"type": "point", "shape": "M-0.6,1L0,0L0.6,1", "size": 150, "filled": false, "color": "#222222", "strokeWidth": 1, "opacity": 1, "angle": 228},
   "encoding": {"x": {"datum": 0.32}, "y": {"datum": 0.78}}},
  {"data": {"values": [{}]}, "mark": {"type": "text", "text": ["Contact", "discontinuity"], "lineHeight": 19, "font": "Liberation Serif", "fontSize": 17, "fontWeight": "bold", "fontStyle": "italic", "align": "center", "baseline": "middle", "color": "#111111"},
   "encoding": {"x": {"datum": 0.746}, "y": {"datum": 0.652}}},
  {"data": {"values": [{}]}, "mark": {"type": "rule", "color": "#222222", "strokeWidth": 1},
   "encoding": {"x": {"datum": 0.675}, "y": {"datum": 0.507}, "x2": {"datum": 0.603}, "y2": {"datum": 0.381}}},
  {"data": {"values": [{}]}, "mark": {"type": "point", "shape": "M-0.6,1L0,0L0.6,1", "size": 150, "filled": false, "color": "#222222", "strokeWidth": 1, "opacity": 1, "angle": 240},
   "encoding": {"x": {"datum": 0.603}, "y": {"datum": 0.381}}},
  {"data": {"values": [{}]}, "mark": {"type": "text", "text": ["Shock", "wave"], "lineHeight": 19, "font": "Liberation Serif", "fontSize": 17, "fontWeight": "bold", "fontStyle": "italic", "align": "center", "baseline": "middle", "color": "#111111"},
   "encoding": {"x": {"datum": 0.894}, "y": {"datum": 0.42}}},
  {"data": {"values": [{}]}, "mark": {"type": "rule", "color": "#222222", "strokeWidth": 1},
   "encoding": {"x": {"datum": 0.829}, "y": {"datum": 0.332}, "x2": {"datum": 0.769}, "y2": {"datum": 0.223}}},
  {"data": {"values": [{}]}, "mark": {"type": "point", "shape": "M-0.6,1L0,0L0.6,1", "size": 150, "filled": false, "color": "#222222", "strokeWidth": 1, "opacity": 1, "angle": 234},
   "encoding": {"x": {"datum": 0.769}, "y": {"datum": 0.223}}}
 ]
},
{
 "width": 444, "height": 282,
 "layer": [
  {"data": {"name": "ex"}, "mark": {"type": "line", "strokeWidth": 2.5},
   "encoding": {
    "x": {"field": "x", "type": "quantitative", "scale": {"domain": [0, 1], "nice": false},
      "axis": {"title": "Coordinate", "titlePadding": 2, "tickCount": 200, "values": [0,0.02,0.04,0.06,0.08,0.1,0.12,0.14,0.16,0.18,0.2,0.22,0.24,0.26,0.28,0.3,0.32,0.34,0.36,0.38,0.4,0.42,0.44,0.46,0.48,0.5,0.52,0.54,0.56,0.58,0.6,0.62,0.64,0.66,0.68,0.7,0.72,0.74,0.76,0.78,0.8,0.82,0.84,0.86,0.88,0.9,0.92,0.94,0.96,0.98,1],
       "gridColor": {"condition": {"test": "round(datum.value*50)%5===0", "value": "#a3a3a3"}, "value": "#dedede"},
       "tickOpacity": {"condition": {"test": "round(datum.value*50)%5===0", "value": 1}, "value": 0},
       "labelExpr": "round(datum.value*50)%5===0 ? format(datum.value,'~g') : ''"}},
    "y": {"field": "e", "type": "quantitative", "scale": {"domain": [1.8, 3.6], "nice": false, "zero": false},
      "axis": {"title": "Internal energy", "tickCount": 200, "values": [1.8,1.84,1.88,1.92,1.96,2,2.04,2.08,2.12,2.16,2.2,2.24,2.28,2.32,2.36,2.4,2.44,2.48,2.52,2.56,2.6,2.64,2.68,2.72,2.76,2.8,2.84,2.88,2.92,2.96,3,3.04,3.08,3.12,3.16,3.2,3.24,3.28,3.32,3.36,3.4,3.44,3.48,3.52,3.56,3.6],
       "gridColor": {"condition": {"test": "round(datum.value*25)%5===0", "value": "#a3a3a3"}, "value": "#dedede"},
       "tickOpacity": {"condition": {"test": "round(datum.value*25)%5===0", "value": 1}, "value": 0},
       "labelExpr": "round(datum.value*25)%5===0 ? format(datum.value,'~g') : ''"}},
    "order": {"field": "k"},
    "color": {"datum": "Exact solution", "type": "nominal",
      "scale": {"domain": ["Exact solution", "HLLC", "TVD-WAF+HLLC+SUPERBEE", "TVD-WAF+HLLC+MINMOD"], "range": ["#000000", "#2db34a", "#c8161d", "#2f97d0"]},
      "legend": {"orient": "none", "legendX": 37, "legendY": 9.6, "title": null, "padding": 0, "symbolSize": 324, "labelFont": "Liberation Serif", "labelFontSize": 16, "labelFontWeight": "bold", "labelOffset": 7, "rowPadding": 9, "labelLimit": 400,
        "labelExpr": "datum.label === 'TVD-WAF+HLLC+SUPERBEE' ? ['TVD-WAF+', 'HLLC+SUPERBEE'] : datum.label === 'TVD-WAF+HLLC+MINMOD' ? ['TVD-WAF+', 'HLLC+MINMOD'] : datum.label",
        "encode": {
          "symbols": {"update": {
            "shape": {"signal": "datum.value === 'Exact solution' || datum.value === 'HLLC' ? 'M-4,0L1,0' : 'M-3.94,0a0.38,0.38 0 1,0 0.76,0a0.38,0.38 0 1,0 -0.76,0M-2.38,0a0.38,0.38 0 1,0 0.76,0a0.38,0.38 0 1,0 -0.76,0M-0.94,0a0.38,0.38 0 1,0 0.76,0a0.38,0.38 0 1,0 -0.76,0'"},
            "fill": {"signal": "datum.value === 'Exact solution' || datum.value === 'HLLC' ? 'transparent' : indexof(datum.value, 'SUPERBEE') >= 0 ? '#c8161d' : '#2f97d0'"},
            "stroke": {"signal": "datum.value === 'Exact solution' ? '#000000' : datum.value === 'HLLC' ? '#2db34a' : indexof(datum.value, 'SUPERBEE') >= 0 ? '#5a0b0b' : '#173f5c'"},
            "strokeWidth": {"signal": "datum.value === 'Exact solution' || datum.value === 'HLLC' ? 3 : 0.8"},
            "size": {"value": 324}, "opacity": {"value": 1}}},
          "labels": {"update": {"lineHeight": {"value": 20}, "fill": {"signal": "datum.value === 'Exact solution' ? '#000000' : datum.value === 'HLLC' ? '#22a84a' : indexof(datum.value, 'SUPERBEE') >= 0 ? '#d42027' : '#2aaedc'"}}}
        }}}
   }},
  {"data": {"name": "n"}, "mark": {"type": "line", "strokeWidth": 2.5},
   "encoding": {"x": {"field": "x", "type": "quantitative"}, "y": {"field": "G", "type": "quantitative"}, "color": {"datum": "HLLC", "type": "nominal"}}},
  {"data": {"name": "n"}, "mark": {"type": "point", "filled": true, "size": 34, "stroke": "#173f5c", "strokeWidth": 0.7, "opacity": 1},
   "encoding": {"x": {"field": "x", "type": "quantitative"}, "y": {"field": "TB", "type": "quantitative"}, "color": {"datum": "TVD-WAF+HLLC+MINMOD", "type": "nominal"}}},
  {"data": {"name": "n"}, "mark": {"type": "point", "filled": true, "size": 34, "stroke": "#5a0b0b", "strokeWidth": 0.7, "opacity": 1},
   "encoding": {"x": {"field": "x", "type": "quantitative"}, "y": {"field": "TR", "type": "quantitative"}, "color": {"datum": "TVD-WAF+HLLC+SUPERBEE", "type": "nominal"}}}
 ]
},
{
 "width": 444, "height": 282,
 "layer": [
  {"data": {"name": "ex"}, "mark": {"type": "line", "strokeWidth": 2.5},
   "encoding": {
    "x": {"field": "x", "type": "quantitative", "scale": {"domain": [0, 1], "nice": false},
      "axis": {"title": "Coordinate", "titlePadding": 2, "tickCount": 200, "values": [0,0.02,0.04,0.06,0.08,0.1,0.12,0.14,0.16,0.18,0.2,0.22,0.24,0.26,0.28,0.3,0.32,0.34,0.36,0.38,0.4,0.42,0.44,0.46,0.48,0.5,0.52,0.54,0.56,0.58,0.6,0.62,0.64,0.66,0.68,0.7,0.72,0.74,0.76,0.78,0.8,0.82,0.84,0.86,0.88,0.9,0.92,0.94,0.96,0.98,1],
       "gridColor": {"condition": {"test": "round(datum.value*50)%5===0", "value": "#a3a3a3"}, "value": "#dedede"},
       "tickOpacity": {"condition": {"test": "round(datum.value*50)%5===0", "value": 1}, "value": 0},
       "labelExpr": "round(datum.value*50)%5===0 ? format(datum.value,'~g') : ''"}},
    "y": {"field": "e", "type": "quantitative", "scale": {"domain": [1.8, 3.6], "nice": false, "zero": false},
      "axis": {"title": "Internal energy", "tickCount": 200, "values": [1.8,1.84,1.88,1.92,1.96,2,2.04,2.08,2.12,2.16,2.2,2.24,2.28,2.32,2.36,2.4,2.44,2.48,2.52,2.56,2.6,2.64,2.68,2.72,2.76,2.8,2.84,2.88,2.92,2.96,3,3.04,3.08,3.12,3.16,3.2,3.24,3.28,3.32,3.36,3.4,3.44,3.48,3.52,3.56,3.6],
       "gridColor": {"condition": {"test": "round(datum.value*25)%5===0", "value": "#a3a3a3"}, "value": "#dedede"},
       "tickOpacity": {"condition": {"test": "round(datum.value*25)%5===0", "value": 1}, "value": 0},
       "labelExpr": "round(datum.value*25)%5===0 ? format(datum.value,'~g') : ''"}},
    "order": {"field": "k"},
    "color": {"datum": "Exact solution", "type": "nominal",
      "scale": {"domain": ["Exact solution", "HLLC", "MUSCL+HLLC+SUPERBEE", "MUSCL+HLLC+MINMOD"], "range": ["#000000", "#2db34a", "#c8161d", "#2f97d0"]},
      "legend": {"orient": "none", "legendX": 46.5, "legendY": 9.6, "title": null, "padding": 0, "symbolSize": 324, "labelFont": "Liberation Serif", "labelFontSize": 16, "labelFontWeight": "bold", "labelOffset": 7, "rowPadding": 9, "labelLimit": 400,
        "labelExpr": "datum.label === 'MUSCL+HLLC+SUPERBEE' ? ['MUSCL+', 'HLLC+SUPERBEE'] : datum.label === 'MUSCL+HLLC+MINMOD' ? ['MUSCL+', 'HLLC+MINMOD'] : datum.label",
        "encode": {
          "symbols": {"update": {
            "shape": {"signal": "datum.value === 'Exact solution' || datum.value === 'HLLC' ? 'M-4,0L1,0' : 'M-3.94,0a0.38,0.38 0 1,0 0.76,0a0.38,0.38 0 1,0 -0.76,0M-2.38,0a0.38,0.38 0 1,0 0.76,0a0.38,0.38 0 1,0 -0.76,0M-0.94,0a0.38,0.38 0 1,0 0.76,0a0.38,0.38 0 1,0 -0.76,0'"},
            "fill": {"signal": "datum.value === 'Exact solution' || datum.value === 'HLLC' ? 'transparent' : indexof(datum.value, 'SUPERBEE') >= 0 ? '#c8161d' : '#2f97d0'"},
            "stroke": {"signal": "datum.value === 'Exact solution' ? '#000000' : datum.value === 'HLLC' ? '#2db34a' : indexof(datum.value, 'SUPERBEE') >= 0 ? '#5a0b0b' : '#173f5c'"},
            "strokeWidth": {"signal": "datum.value === 'Exact solution' || datum.value === 'HLLC' ? 3 : 0.8"},
            "size": {"value": 324}, "opacity": {"value": 1}}},
          "labels": {"update": {"lineHeight": {"value": 20}, "fill": {"signal": "datum.value === 'Exact solution' ? '#000000' : datum.value === 'HLLC' ? '#22a84a' : indexof(datum.value, 'SUPERBEE') >= 0 ? '#d42027' : '#2aaedc'"}}}
        }}}
   }},
  {"data": {"name": "n"}, "mark": {"type": "line", "strokeWidth": 2.5},
   "encoding": {"x": {"field": "x", "type": "quantitative"}, "y": {"field": "G", "type": "quantitative"}, "color": {"datum": "HLLC", "type": "nominal"}}},
  {"data": {"name": "n"}, "mark": {"type": "point", "filled": true, "size": 34, "stroke": "#173f5c", "strokeWidth": 0.7, "opacity": 1},
   "encoding": {"x": {"field": "x", "type": "quantitative"}, "y": {"field": "MB", "type": "quantitative"}, "color": {"datum": "MUSCL+HLLC+MINMOD", "type": "nominal"}}},
  {"data": {"name": "n"}, "mark": {"type": "point", "filled": true, "size": 34, "stroke": "#5a0b0b", "strokeWidth": 0.7, "opacity": 1},
   "encoding": {"x": {"field": "x", "type": "quantitative"}, "y": {"field": "MR", "type": "quantitative"}, "color": {"datum": "MUSCL+HLLC+SUPERBEE", "type": "nominal"}}}
 ]
}
]
}
